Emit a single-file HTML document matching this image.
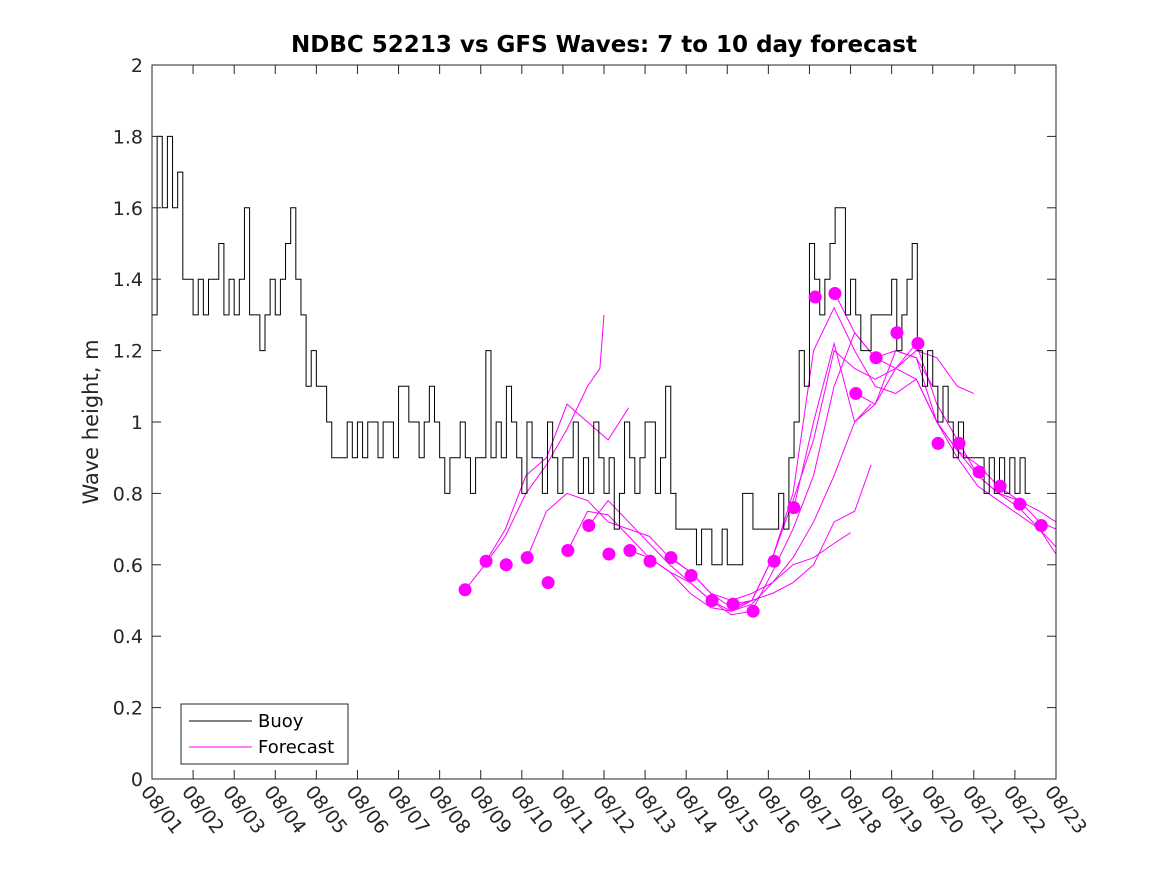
<!DOCTYPE html>
<html><head><meta charset="utf-8"><style>
html,body{margin:0;padding:0;background:#fff;}
svg{display:block;font-family:"DejaVu Sans","Liberation Sans",sans-serif;}
</style></head><body>
<svg id="chart" width="1167" height="875" viewBox="0 0 1167 875">
<rect x="0" y="0" width="1167" height="875" fill="#fff"/>
<text x="604" y="52" text-anchor="middle" font-weight="bold" font-size="23" fill="#000">NDBC 52213 vs GFS Waves: 7 to 10 day forecast</text>
<text transform="translate(98,422) rotate(-90)" text-anchor="middle" font-size="21" fill="#262626">Wave height, m</text>
<g id="series"></g>
<rect x="152" y="65" width="904" height="714" fill="none" stroke="#262626" stroke-width="1"/>
<g id="axes"></g>
<g>
<rect x="181" y="704" width="167" height="60" fill="#fff" stroke="#262626"/>
<line x1="189" y1="721" x2="252" y2="721" stroke="#000"/>
<text x="258" y="727" font-size="18" fill="#000">Buoy</text>
<line x1="189" y1="747" x2="252" y2="747" stroke="#f0f"/>
<text x="258" y="753" font-size="18" fill="#000">Forecast</text>
</g>
</svg>
<script>
const xTickLabels=["08/01","08/02","08/03","08/04","08/05","08/06","08/07","08/08","08/09","08/10","08/11","08/12","08/13","08/14","08/15","08/16","08/17","08/18","08/19","08/20","08/21","08/22","08/23"];
const yTickValues=[0,0.2,0.4,0.6,0.8,1,1.2,1.4,1.6,1.8,2];
const yTickLabels=["0","0.2","0.4","0.6","0.8","1","1.2","1.4","1.6","1.8","2"];
// buoy values every 3 hours starting 08/01 00:00
const buoyValues=[1.3,1.8,1.6,1.8,1.6,1.7,1.4,1.4, 1.3,1.4,1.3,1.4,1.4,1.5,1.3,1.4, 1.3,1.4,1.6,1.3,1.3,1.2,1.3,1.4, 1.3,1.4,1.5,1.6,1.4,1.3,1.1,1.2,
 1.1,1.1,1.0,0.9,0.9,0.9,1.0,0.9, 1.0,0.9,1.0,1.0,0.9,1.0,1.0,0.9, 1.1,1.1,1.0,1.0,0.9,1.0,1.1,1.0, 0.9,0.8,0.9,0.9,1.0,0.9,0.8,0.9,
 0.9,1.2,0.9,1.0,0.9,1.1,1.0,0.9, 0.8,1.0,0.9,0.9,0.8,1.0,0.9,0.8, 0.9,0.9,1.0,0.8,0.9,0.8,1.0,0.9, 0.8,0.9,0.7,0.8,1.0,0.9,0.8,0.9,
 1.0,1.0,0.8,0.9,1.1,0.8,0.7,0.7, 0.7,0.7,0.6,0.7,0.7,0.6,0.6,0.7, 0.6,0.6,0.6,0.8,0.8,0.7,0.7,0.7, 0.7,0.7,0.8,0.7,0.9,1.0,1.2,1.1,
 1.5,1.4,1.3,1.4,1.5,1.6,1.6,1.3, 1.4,1.3,1.2,1.2,1.3,1.3,1.3,1.3, 1.4,1.2,1.3,1.4,1.5,1.2,1.1,1.2, 1.1,1.0,1.1,1.0,0.9,1.0,0.9,0.9,
 0.9,0.9,0.8,0.9,0.8,0.9,0.8,0.9, 0.8,0.9,0.8];
const buoyStep=0.125;
const markerDays=[7.62,8.13,8.62,9.13,9.64,10.12,10.63,11.12,11.63,12.12,12.63,13.12,13.63,14.14,14.63,15.14,15.62,16.14,16.62,17.13,17.62,18.13,18.64,19.13,19.64,20.13,20.64,21.12,21.64];
const markerValues=[0.53,0.61,0.60,0.62,0.55,0.64,0.71,0.63,0.64,0.61,0.62,0.57,0.50,0.49,0.47,0.61,0.76,1.35,1.36,1.08,1.18,1.25,1.22,0.94,0.94,0.86,0.82,0.77,0.71];
const f1=[[7.62,.53],[8.1,.6],[8.6,.68],[9.1,.8],[9.6,.88],[10.1,.98],[10.6,1.1],[10.9,1.15],[11.0,1.3]];
const f2=[[8.13,.61],[8.6,.7],[9.1,.85],[9.6,.9],[10.1,1.05],[10.6,1.0],[11.1,.95],[11.6,1.04]];
const f3=[[9.13,.62],[9.6,.75],[10.1,.8],[10.6,.78],[11.1,.72],[11.6,.7],[12.1,.68],[12.6,.62],[13.1,.58],[13.6,.52],[14.1,.5],[14.6,.52],[15.1,.55],[15.6,.6],[16.1,.62],[16.6,.66],[17.0,.69]];
const f4=[[10.12,.64],[10.6,.75],[11.1,.74],[11.6,.68],[12.1,.62],[12.6,.58],[13.1,.52],[13.6,.48],[14.1,.47],[14.6,.5],[15.1,.52],[15.6,.55],[16.1,.6],[16.6,.72],[17.1,.75],[17.5,.88]];
const f5=[[10.63,.71],[11.1,.78],[11.6,.72],[12.1,.66],[12.6,.6],[13.1,.55],[13.6,.5],[14.1,.47],[14.6,.49],[15.1,.55],[15.6,.62],[16.1,.72],[16.6,.85],[17.1,1.0],[17.5,1.05]];
const f6=[[11.63,.64],[12.1,.62],[12.6,.58],[13.1,.55],[13.6,.5],[14.1,.46],[14.6,.47],[15.1,.58],[15.6,.7],[16.1,.85],[16.6,1.1],[17.1,1.25],[17.6,1.18],[18.1,1.2],[18.6,1.18],[19.0,1.1]];
const f7=[[12.63,.62],[13.1,.58],[13.6,.52],[14.1,.48],[14.6,.5],[15.1,.62],[15.6,.78],[16.1,.95],[16.6,1.2],[17.1,1.15],[17.6,1.12],[18.1,1.15],[18.6,1.2],[19.1,1.18],[19.6,1.1],[20.0,1.08]];
const f8=[[14.14,.49],[14.6,.5],[15.1,.62],[15.6,.8],[16.1,1.2],[16.6,1.32],[17.1,1.2],[17.6,1.1],[18.1,1.08],[18.6,1.12],[19.1,1.0],[19.6,.92],[20.1,.85],[20.6,.8],[21.1,.78],[21.6,.75],[22,.72]];
const f9=[[15.62,.76],[16.1,1.0],[16.6,1.22],[17.1,1.0],[17.6,1.05],[18.1,1.2],[18.6,1.18],[19.1,1.0],[19.6,.9],[20.1,.82],[20.6,.78],[21.1,.74],[21.6,.7],[22,.65]];
const f10=[[17.13,1.08],[17.6,1.05],[18.1,1.15],[18.6,1.22],[19.1,1.05],[19.6,.95],[20.1,.85],[20.6,.8],[21.1,.76],[21.6,.7],[22,.63]];
const f11=[[16.62,1.36],[17.1,1.25],[17.6,1.18],[18.1,1.15],[18.6,1.12],[19.1,1.0],[19.6,.92],[20.1,.88],[20.6,.82],[21.1,.78],[21.6,.72],[22,.7]];
const forecasts=[f1,f2,f3,f4,f5,f6,f7,f8,f9,f10,f11];

const NS="http://www.w3.org/2000/svg";
const X0=152,X1=1056,Y0=779,Y1=65;
function xs(d){return X0+(X1-X0)*d/22;}
function ys(v){return Y0-(Y0-Y1)*v/2;}
function mk(tag,attrs,parent){const e=document.createElementNS(NS,tag);for(const k in attrs)e.setAttribute(k,attrs[k]);parent.appendChild(e);return e;}
const axes=document.getElementById('axes'),series=document.getElementById('series');
xTickLabels.forEach((lab,i)=>{
  const x=xs(i);
  const t=mk('line',{x1:x,y1:Y0,x2:x,y2:Y0-9,stroke:'#262626'},axes);
  
  
  const tt=mk('line',{x1:x,y1:Y1,x2:x,y2:Y1+9,stroke:'#262626'},axes);
  
  
  const tx=mk('text',{transform:`translate(${x-12},${Y0+13}) rotate(52)`,'font-size':19,fill:'#262626'},axes);
  tx.textContent=lab;
  
  
});
yTickValues.forEach((v,i)=>{
  const y=ys(v);
  const t=mk('line',{x1:X0,y1:y,x2:X0+9,y2:y,stroke:'#262626'},axes);
  
  
  const tr=mk('line',{x1:X1,y1:y,x2:X1-9,y2:y,stroke:'#262626'},axes);
  
  
  const tx=mk('text',{x:X0-9,y:y+7,'text-anchor':'end','font-size':19,fill:'#262626'},axes);
  tx.textContent=yTickLabels[i];
  
  
});
forecasts.forEach(f=>{
  const p=mk('polyline',{points:f.map(q=>xs(q[0])+','+ys(q[1])).join(' '),fill:'none',stroke:'#f0f','stroke-width':1},series);
  
  
});
let pts=[];
buoyValues.forEach((v,i)=>{pts.push(xs(i*buoyStep)+','+ys(v));pts.push(xs((i+1)*buoyStep)+','+ys(v));});
const b=mk('polyline',{points:pts.join(' '),fill:'none',stroke:'#000','stroke-width':1},series);


markerDays.forEach((d,i)=>{
  const c=mk('circle',{cx:xs(d),cy:ys(markerValues[i]),r:6.5,fill:'#f0f'},series);
  
  
});
</script>
</body></html>
